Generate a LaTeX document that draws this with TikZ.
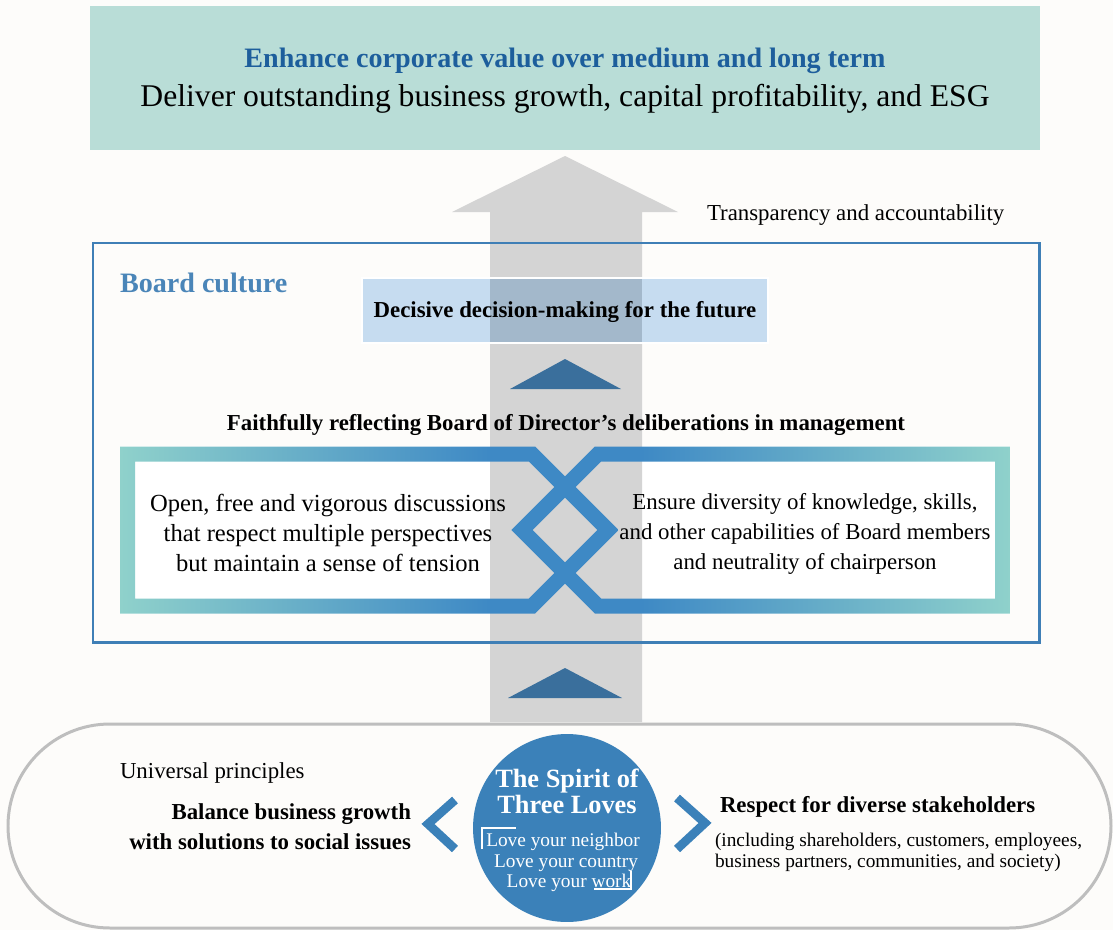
\documentclass[tikz,border=0pt]{standalone}
\usepackage{fontspec}
\setmainfont{Liberation Serif}
\usepackage{xcolor}
\definecolor{paper}{HTML}{FDFCFA}
\definecolor{goalteal}{HTML}{B9DDD7}
\definecolor{titleblue}{HTML}{1D5E9C}
\definecolor{boardblue}{HTML}{3F7FB6}
\definecolor{cultureblue}{HTML}{4A85B8}
\definecolor{decisionblue}{HTML}{C6DCF0}
\definecolor{decisionshade}{HTML}{A3B8CB}
\definecolor{shaftgray}{HTML}{D4D4D4}
\definecolor{triblue}{HTML}{3A6F9C}
\definecolor{bandteal}{HTML}{8FD1CB}
\definecolor{bandblue}{HTML}{3E89C5}
\definecolor{spiritblue}{HTML}{3B81B9}
\definecolor{pillgray}{HTML}{BEBEBE}

% the interlaced band fades from teal at the outside to blue at the crossing
\pgfdeclarehorizontalshading{bandleft}{100bp}{color(0bp)=(bandteal); color(25bp)=(bandteal);
  color(62bp)=(bandblue); color(100bp)=(bandblue)}
\pgfdeclarehorizontalshading{bandright}{100bp}{color(0bp)=(bandblue); color(38bp)=(bandblue);
  color(75bp)=(bandteal); color(100bp)=(bandteal)}

\tikzset{
  every node/.style={inner sep=0pt, outer sep=0pt},
  goaltitle/.style={font=\fontsize{16}{19}\selectfont\bfseries, text=titleblue},
  goalline/.style={font=\fontsize{18}{21}\selectfont},
  plainlabel/.style={font=\fontsize{13}{16}\selectfont},
  boldlabel/.style={font=\fontsize{13}{17}\selectfont\bfseries},
  culturelabel/.style={font=\fontsize{16}{19}\selectfont\bfseries, text=cultureblue},
  panelleft/.style={font=\fontsize{14}{17}\selectfont, align=center},
  panelright/.style={font=\fontsize{13}{17}\selectfont, align=center},
  spirittitle/.style={font=\fontsize{15}{15}\selectfont\bfseries, text=white},
  loveline/.style={font=\fontsize{11}{12}\selectfont, text=white},
  smalllabel/.style={font=\fontsize{11}{12}\selectfont, align=left},
  chevron/.style={draw=spiritblue, line width=5pt},
  bracket/.style={draw=white, line width=0.6pt}
}

\begin{document}
\begin{tikzpicture}[x=0.02cm, y=-0.02cm]
  \useasboundingbox[fill=paper] (0,0) rectangle (1113,930);

  % goal banner
  \fill[goalteal] (90,6) rectangle (1040,150);
  \node[goaltitle, anchor=base] (goal) at (565,67)
    {Enhance corporate value over medium and long term};
  \node[goalline, anchor=base] (deliver) at (565,106)
    {Deliver outstanding business growth, capital profitability, and ESG};

  % white field behind the two panels, then the big grey arrow
  \fill[white] (120,446) rectangle (1010,614);
  \fill[shaftgray] (490,722) -- (490,212) -- (452,212) -- (565,156)
    -- (678,212) -- (642,212) -- (642,722) -- cycle;
  \node[plainlabel, anchor=base west] (transp) at (707,220)
    {Transparency and accountability};

  % board culture frame
  \draw[boardblue, line width=1.7pt] (93,243) rectangle (1039,642);
  \node[culturelabel, anchor=base west] (culture) at (120,292) {Board culture};

  \fill[decisionblue] (362,278) rectangle (768,343);
  \fill[decisionshade] (490,278) rectangle (642,343);
  \draw[white, line width=1pt] (362,278) rectangle (768,343);
  \node[boldlabel, anchor=base] (decide) at (565,317)
    {Decisive decision-making for the future};

  \fill[triblue] (510,389) -- (565,359) -- (621,389) -- cycle;
  \node[boldlabel, anchor=base] (reflect) at (566,430)
    {Faithfully reflecting Board of Director's deliberations in management};

  % two loops crossing in the middle
  \shade[shading=bandleft, even odd rule]
    (120,446.5) -- (535.1,446.5) -- (618.6,530) -- (535.1,613.5) -- (120,613.5) -- cycle
    (135,461.5) -- (528.9,461.5) -- (597.4,530) -- (528.9,598.5) -- (135,598.5) -- cycle;
  \shade[shading=bandright, even odd rule]
    (1010,446.5) -- (594.9,446.5) -- (511.4,530) -- (594.9,613.5) -- (1010,613.5) -- cycle
    (995,461.5) -- (601.1,461.5) -- (532.6,530) -- (601.1,598.5) -- (995,598.5) -- cycle;

  \node[panelleft] (discuss) at (328,533)
    {Open, free and vigorous discussions\\that respect multiple perspectives\\but maintain a sense of tension};
  \node[panelright] (diverse) at (805,534)
    {Ensure diversity of knowledge, skills,\\and other capabilities of Board members\\and neutrality of chairperson};

  \fill[triblue] (508,698) -- (565,668) -- (622,698) -- cycle;

  % universal principles
  \draw[pillgray, line width=1.7pt, rounded corners=2.04cm] (8,724) rectangle (1111,928);

  \node[circle, fill=spiritblue, minimum size=3.76cm] (spirit) at (567,828) {};
  \node[spirittitle, anchor=base] (spirit-a) at (567,787) {The Spirit of};
  \node[spirittitle, anchor=base] (spirit-b) at (567,813) {Three Loves};
  \node[loveline, anchor=base] (love-a) at (563,846) {Love your neighbor};
  \node[loveline, anchor=base] (love-b) at (566,867) {Love your country};
  \node[loveline, anchor=base] (love-c) at (569,887) {Love your work};
  \draw[bracket] (482,849) |- (516,828);
  \draw[bracket] (594,889) -| (631,871);

  \draw[chevron] (455,800) -- (428,824) -- (455,849);
  \draw[chevron] (677,798) -- (705,823) -- (677,849);

  \node[plainlabel, anchor=base west] (universal) at (120,778) {Universal principles};
  \node[boldlabel, align=right, anchor=east] (balance) at (411,827)
    {Balance business growth\\with solutions to social issues};
  \node[boldlabel, anchor=base west] (respect) at (720,812) {Respect for diverse stakeholders};
  \node[smalllabel, anchor=west] (holders) at (715,852)
    {(including shareholders, customers, employees,\\business partners, communities, and society)};
\end{tikzpicture}
\end{document}
